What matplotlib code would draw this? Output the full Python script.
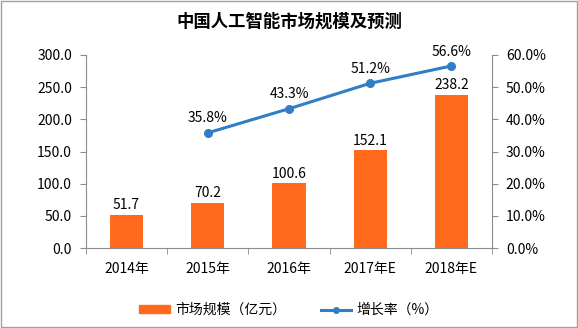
import matplotlib.pyplot as plt
import numpy as np

plt.rcParams['font.family'] = ['Noto Sans CJK SC', 'DejaVu Sans']

years = ['2014年', '2015年', '2016年', '2017年E', '2018年E']
market_size = [51.7, 70.2, 100.6, 152.1, 238.2]
growth_years = ['2015年', '2016年', '2017年E', '2018年E']
growth_rate = [35.8, 43.3, 51.2, 56.6]

bar_color = '#FF6A1C'
line_color = '#2F7EC6'
axis_color = '#8C8C8C'
fs = 10

fig = plt.figure(figsize=(5.78, 3.28), dpi=100)
ax = fig.add_axes([86 / 578, 80 / 328, 406 / 578, 193 / 328])

x = np.arange(len(years))
ax.bar(x, market_size, width=0.41, color=bar_color, zorder=2)
for xi, v in zip(x, market_size):
    ax.text(xi, v + 4, f'{v:.1f}', ha='center', va='bottom', fontsize=fs)

ax.set_xlim(-0.5, len(years) - 0.5)
ax.set_ylim(0, 300)
ax.set_yticks(np.arange(0, 301, 50))
ax.set_yticklabels([f'{v:.1f}' for v in np.arange(0, 301, 50)], fontsize=fs)
ax.set_xticks(x)
ax.set_xticklabels(years, fontsize=fs)
ax.set_xticks(np.arange(-0.5, len(years)), minor=True)
ax.tick_params(axis='x', which='major', length=0, pad=10)
ax.tick_params(axis='x', which='minor', length=4, color=axis_color)
ax.tick_params(axis='y', length=4, color=axis_color, pad=6)
for s in ['left', 'bottom']:
    ax.spines[s].set_color(axis_color)
ax.spines['top'].set_visible(False)
ax.spines['right'].set_visible(False)

ax2 = ax.twinx()
gx = [years.index(y) for y in growth_years]
ax2.plot(gx, growth_rate, color=line_color, lw=2.2, marker='o', ms=5.5, zorder=3)
for xi, v in zip(gx, growth_rate):
    ax2.text(xi, v + 2.3, f'{v:.1f}%', ha='center', va='bottom', fontsize=fs)
ax2.set_ylim(0, 60)
ax2.set_yticks(np.arange(0, 61, 10))
ax2.set_yticklabels([f'{v:.1f}%' for v in np.arange(0, 61, 10)], fontsize=fs)
ax2.tick_params(axis='y', length=4, color=axis_color, pad=6)
ax2.spines['right'].set_color(axis_color)
for s in ['top', 'left', 'bottom']:
    ax2.spines[s].set_visible(False)

fig.text(0.5, 1 - 22 / 328, '中国人工智能市场规模及预测', ha='center', va='center',
         fontsize=12.5, fontweight='bold')

handles = [plt.Rectangle((0, 0), 1, 1, color=bar_color),
           plt.Line2D([], [], color=line_color, lw=2.2, marker='o', ms=4)]
fig.legend(handles, ['市场规模（亿元）', '增长率（%）'], loc='center',
           bbox_to_anchor=(0.5, 1 - 310 / 328), ncol=2, frameon=False,
           fontsize=fs, handlelength=2.2, columnspacing=2.5, handleheight=0.5,
           handletextpad=0.4)

# outer frame
fig.patches.append(plt.Rectangle((0.002, 0.003), 0.996, 0.994, transform=fig.transFigure,
                                 fill=False, edgecolor='#A0A0A0', lw=1))

fig.savefig('out.png', dpi=100)
